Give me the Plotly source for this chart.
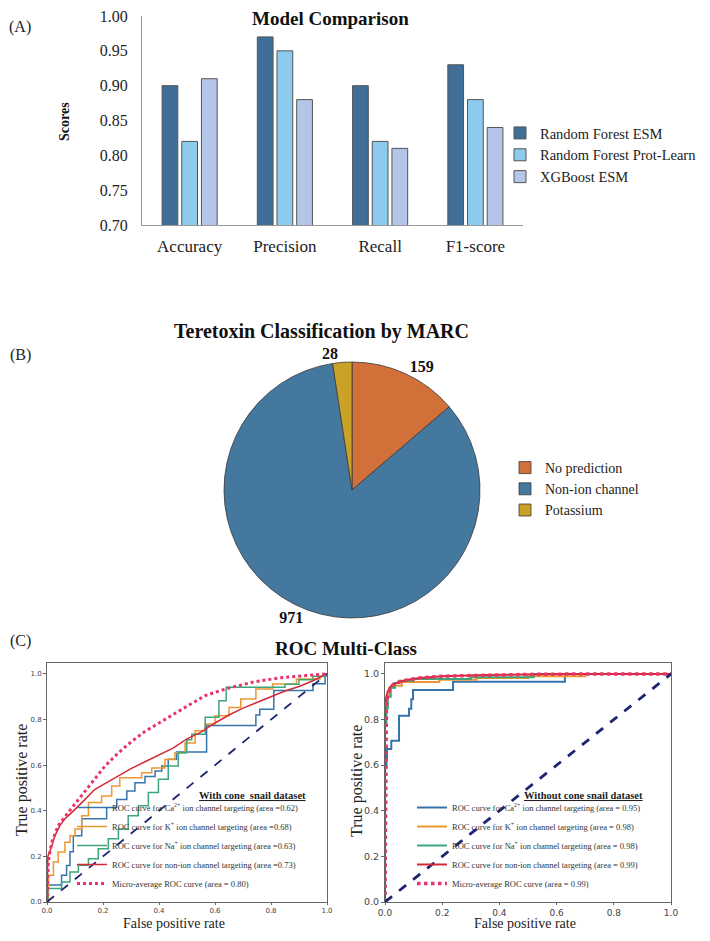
import plotly.graph_objects as go

SERIF = "Liberation Serif"
SANS = "DejaVu Sans"

# page is shown inside the default 8px body margin, so the figure is 694x925
W, H, OFF = 694, 925, 8


def X(px):
    return (px - OFF) / W


def Y(py):
    return 1 - (py - OFF) / H


# ---- (A) model comparison ----
metrics = ['Accuracy', 'Precision', 'Recall', 'F1-score']
rf_esm_scores = [0.90, 0.97, 0.90, 0.93]
rf_prot_scores = [0.82, 0.95, 0.82, 0.88]
xgb_esm_scores = [0.91, 0.88, 0.81, 0.84]

# ---- (B) MARC classification ----
pie_labels = ['No prediction', 'Non-ion channel', 'Potassium']
pie_counts = [159, 971, 28]

# ---- (C) ROC, with cone snail dataset ----
w_ca_fpr = [0, 0.005, 0.052, 0.07, 0.082, 0.094, 0.124, 0.213, 0.249, 0.285, 0.314, 0.35, 0.386,
            0.41, 0.433, 0.463, 0.57, 0.746, 0.76, 0.81, 0.95, 0.993, 1.0]
w_ca_tpr = [0, 0.074, 0.117, 0.16, 0.22, 0.29, 0.365, 0.414, 0.45, 0.487, 0.523, 0.55, 0.574,
            0.596, 0.626, 0.658, 0.774, 0.82, 0.845, 0.927, 0.957, 1.0, 1.0]
w_k_fpr = [0, 0.005, 0.023, 0.04, 0.064, 0.082, 0.1, 0.124, 0.148, 0.195, 0.231, 0.26, 0.338,
           0.374, 0.421, 0.457, 0.493, 0.529, 0.565, 0.6, 0.65, 0.692, 0.746, 0.806, 0.891, 0.975, 1.0]
w_k_tpr = [0, 0.117, 0.175, 0.219, 0.262, 0.291, 0.32, 0.378, 0.436, 0.465, 0.509, 0.545, 0.567,
           0.588, 0.625, 0.654, 0.697, 0.751, 0.78, 0.817, 0.853, 0.89, 0.934, 0.956, 0.978, 0.99, 1.0]
w_na_fpr = [0, 0.003, 0.052, 0.082, 0.112, 0.148, 0.183, 0.219, 0.255, 0.29, 0.326, 0.362, 0.398,
            0.433, 0.469, 0.499, 0.517, 0.565, 0.614, 0.64, 0.85, 0.9, 0.95, 1.0]
w_na_tpr = [0, 0.059, 0.088, 0.132, 0.161, 0.19, 0.233, 0.277, 0.32, 0.378, 0.422, 0.48, 0.538,
            0.596, 0.654, 0.712, 0.736, 0.81, 0.883, 0.942, 0.955, 0.975, 0.99, 1.0]
w_non_fpr = [0, 0.003, 0.017, 0.028, 0.046, 0.064, 0.088, 0.112, 0.136, 0.17, 0.207, 0.25, 0.3,
             0.35, 0.4, 0.45, 0.5, 0.55, 0.6, 0.65, 0.7, 0.75, 0.8, 0.85, 0.9, 0.95, 1.0]
w_non_tpr = [0, 0.2, 0.245, 0.29, 0.335, 0.365, 0.392, 0.42, 0.45, 0.493, 0.52, 0.55, 0.585,
             0.615, 0.645, 0.675, 0.715, 0.745, 0.785, 0.82, 0.85, 0.875, 0.9, 0.925, 0.945, 0.97, 1.0]
w_micro_fpr = [0, 0.005, 0.017, 0.04, 0.076, 0.112, 0.16, 0.207, 0.255, 0.302, 0.35, 0.398,
               0.445, 0.505, 0.565, 0.64, 0.735, 0.83, 0.925, 1.0]
w_micro_tpr = [0, 0.18, 0.262, 0.335, 0.393, 0.45, 0.523, 0.596, 0.654, 0.704, 0.748, 0.784,
               0.82, 0.862, 0.905, 0.935, 0.964, 0.983, 0.993, 1.0]
w_areas = [0.62, 0.68, 0.63, 0.73, 0.80]

# ---- (C) ROC, without cone snail dataset ----
wo_ca_fpr = [0, 0, 0.005, 0.007, 0.022, 0.049, 0.084, 0.092, 0.098, 0.238, 0.629, 1.0]
wo_ca_tpr = [0, 0.6, 0.63, 0.671, 0.707, 0.817, 0.847, 0.889, 0.93, 0.966, 1.0, 1.0]
wo_k_fpr = [0, 0, 0.003, 0.008, 0.015, 0.028, 0.059, 0.19, 0.32, 0.5, 0.7, 1.0]
wo_k_tpr = [0, 0.8, 0.86, 0.9, 0.94, 0.948, 0.965, 0.975, 0.982, 0.99, 1.0, 1.0]
wo_na_fpr = [0, 0, 0.005, 0.01, 0.02, 0.035, 0.05, 0.1, 0.3, 0.52, 1.0]
wo_na_tpr = [0, 0.78, 0.85, 0.9, 0.94, 0.96, 0.97, 0.978, 0.985, 1.0, 1.0]
wo_non_fpr = [0, 0, 0.005, 0.01, 0.02, 0.03, 0.05, 0.08, 0.12, 0.2, 0.35, 0.6, 1.0]
wo_non_tpr = [0, 0.85, 0.9, 0.925, 0.945, 0.955, 0.965, 0.975, 0.982, 0.99, 0.995, 1.0, 1.0]
wo_micro_fpr = [0, 0.002, 0.005, 0.01, 0.02, 0.03, 0.05, 0.08, 0.12, 0.2, 0.35, 0.5, 0.7, 1.0]
wo_micro_tpr = [0, 0.82, 0.88, 0.91, 0.94, 0.955, 0.965, 0.975, 0.982, 0.99, 0.995, 0.998, 1.0, 1.0]
wo_areas = [0.95, 0.98, 0.98, 0.99, 0.99]

chance = [0, 1]

bar_colors = ['#3f6f96', '#8ccbee', '#b3c6e7']
pie_colors = ['#d2703a', '#44789f', '#c9a227']
roc_colors = ['#3674ad', '#ee9630', '#3da57a', '#d42a38', '#e8336a']

fig = go.Figure()

# bars
for name, vals, col in zip(['Random Forest ESM', 'Random Forest Prot-Learn', 'XGBoost ESM'],
                           [rf_esm_scores, rf_prot_scores, xgb_esm_scores], bar_colors):
    fig.add_trace(go.Bar(x=metrics, y=vals, name=name, marker_color=col,
                         marker_line=dict(color='#555555', width=1),
                         xaxis='x', yaxis='y', legend='legend'))

# pie
fig.add_trace(go.Pie(labels=pie_labels, values=pie_counts, sort=False, direction='clockwise',
                     rotation=0, marker=dict(colors=pie_colors, line=dict(color='#3a3a3a', width=0.8)),
                     texttemplate='<b>%{value}</b>', textposition='outside',
                     textfont=dict(family=SERIF, size=16, color='#111111'),
                     domain=dict(x=[X(224), X(480)], y=[Y(618), Y(362)]), legend='legend2'))


def roc_label(ion, area, spaced):
    eq = '= ' if spaced else '='
    return f'ROC curve for {ion} channel targeting (area {eq}{area:.2f})'


def add_roc(curves, areas, xa, ya, leg, lw, spaced):
    names = [roc_label('Ca<sup>2+</sup> ion', areas[0], spaced),
             roc_label('K<sup>+</sup> ion', areas[1], spaced),
             roc_label('Na<sup>+</sup> ion', areas[2], spaced),
             roc_label('non-ion', areas[3], spaced),
             f'Micro-average ROC curve (area = {areas[4]:.2f})']
    for i, (fx, ty) in enumerate(curves):
        shape = 'hv' if i < 3 else 'linear'
        dash = 'dot' if i == 4 else 'solid'
        width = lw + 1.5 if i == 4 else lw
        fig.add_trace(go.Scatter(x=fx, y=ty, mode='lines', name=names[i],
                                 line=dict(color=roc_colors[i], width=width, shape=shape, dash=dash),
                                 xaxis=xa, yaxis=ya, legend=leg))
    fig.add_trace(go.Scatter(x=chance, y=chance, mode='lines', showlegend=False,
                             line=dict(color='#1c2470', width=lw + (0.3 if lw < 2 else 0.8), dash='dash'),
                             xaxis=xa, yaxis=ya))


add_roc([(w_ca_fpr, w_ca_tpr), (w_k_fpr, w_k_tpr), (w_na_fpr, w_na_tpr),
         (w_non_fpr, w_non_tpr), (w_micro_fpr, w_micro_tpr)], w_areas, 'x2', 'y2', 'legend3', 1.5, False)
add_roc([(wo_ca_fpr, wo_ca_tpr), (wo_k_fpr, wo_k_tpr), (wo_na_fpr, wo_na_tpr),
         (wo_non_fpr, wo_non_tpr), (wo_micro_fpr, wo_micro_tpr)], wo_areas, 'x3', 'y3', 'legend4', 2, True)

roc_axis = dict(range=[0, 1], dtick=0.2, tickformat='.1f', showline=True, mirror=True,
                linecolor='#666666', linewidth=1, ticks='outside', ticklen=3, tickcolor='#666666',
                showgrid=False, zeroline=False, automargin=False)

fig.update_layout(
    width=W, height=H,
    margin=dict(l=0, r=0, t=0, b=0, autoexpand=False),
    paper_bgcolor='white', plot_bgcolor='white',
    font=dict(family=SERIF, color='#222222'),
    bargap=0.38, bargroupgap=0.2,
    xaxis=dict(domain=[X(142), X(523)], anchor='y', showline=True, linecolor='#999999', ticks='',
               tickfont=dict(family=SERIF, size=17, color='#222222'), ticklabelstandoff=6,
               automargin=False),
    yaxis=dict(domain=[Y(225), Y(16)], anchor='x', range=[0.70, 1.00], dtick=0.05, tickformat='.2f',
               showline=True, linecolor='#999999', showgrid=False, zeroline=False, ticks='',
               tickfont=dict(family=SERIF, size=16, color='#222222'), ticklabelstandoff=10,
               ticklabeloverflow='allow', automargin=False),
    xaxis2=dict(roc_axis, domain=[X(47), X(327)], anchor='y2', ticklen=2,
                tickfont=dict(family=SANS, size=7, color='#444444')),
    yaxis2=dict(roc_axis, domain=[Y(902), Y(663)], anchor='x2', range=[0, 1.048],
                tickfont=dict(family=SANS, size=7, color='#444444')),
    xaxis3=dict(roc_axis, domain=[X(385), X(671)], anchor='y3', ticklen=2,
                tickfont=dict(family=SANS, size=9, color='#444444')),
    yaxis3=dict(roc_axis, domain=[Y(902), Y(663)], anchor='x3', range=[0, 1.048],
                tickfont=dict(family=SANS, size=9.5, color='#444444')),
    legend=dict(x=X(500), y=Y(117), xanchor='left', yanchor='top', bgcolor='rgba(0,0,0,0)',
                font=dict(family=SERIF, size=14.5, color='#222222')),
    legend2=dict(x=X(505), y=Y(452), xanchor='left', yanchor='top', bgcolor='rgba(0,0,0,0)',
                 font=dict(family=SERIF, size=14, color='#222222')),
    legend3=dict(x=X(72), y=Y(898), xanchor='left', yanchor='bottom', bgcolor='rgba(0,0,0,0)',
                 font=dict(family=SERIF, size=8.5, color='#333333')),
    legend4=dict(x=X(412), y=Y(898), xanchor='left', yanchor='bottom', bgcolor='rgba(0,0,0,0)',
                 font=dict(family=SERIF, size=8.5, color='#333333')),
)

annots = [
    dict(text='(A)', x=X(20), y=Y(27), font=dict(size=16)),
    dict(text='(B)', x=X(20), y=Y(355), font=dict(size=16)),
    dict(text='(C)', x=X(20), y=Y(641), font=dict(size=16)),
    dict(text='<b>Model Comparison</b>', x=X(330), y=Y(18), font=dict(size=19, color='#111111')),
    dict(text='<b>Scores</b>', x=X(65), y=Y(122), textangle=-90, font=dict(size=14, color='#111111')),
    dict(text='<b>Teretoxin Classification by MARC</b>', x=X(321), y=Y(331),
         font=dict(size=20, color='#111111')),
    dict(text='<b>ROC Multi-Class</b>', x=X(346), y=Y(648), font=dict(size=19, color='#111111')),
    dict(text='True positive rate', x=X(22), y=Y(780), textangle=-90, font=dict(size=16)),
    dict(text='True positive rate', x=X(357), y=Y(781), textangle=-90, font=dict(size=16)),
    dict(text='False positive rate', x=X(174), y=Y(923), font=dict(size=14)),
    dict(text='False positive rate', x=X(525), y=Y(923), font=dict(size=14)),
    dict(text='<b><u>With cone  snail dataset</u></b>', x=X(252), y=Y(795), font=dict(size=10.5)),
    dict(text='<b><u>Without cone snail dataset</u></b>', x=X(583), y=Y(795), font=dict(size=10.5)),
]
for a in annots:
    fig.add_annotation(xref='paper', yref='paper', showarrow=False, xanchor='center', yanchor='middle',
                       font=dict(family=SERIF, **{'color': '#222222', **a.pop('font')}), **a)

fig.write_html("out.html")
